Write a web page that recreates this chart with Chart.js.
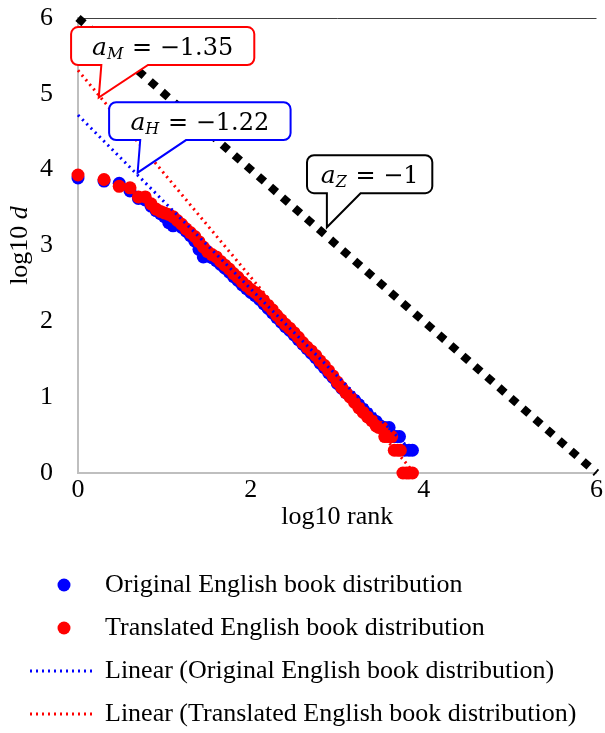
<!DOCTYPE html>
<html>
<head>
<meta charset="utf-8">
<script src="https://cdn.jsdelivr.net/npm/chart.js@4.4.1/dist/chart.umd.min.js"></script>
<style>
  html, body { margin: 0; padding: 0; background: #fff; }
</style>
</head>
<body>
<canvas id="chart" width="605" height="733"></canvas>
<script>
// ---------------- Data ----------------
const seriesNames = [
    'Original English book distribution',
    'Translated English book distribution',
    'Linear (Original English book distribution)',
    'Linear (Translated English book distribution)'
];

// log10 rank / log10 d, original book
const origX = [0, 0.301, 0.477, 0.602, 0.699, 0.778, 0.845, 0.903, 0.954,
    1.00, 1.05, 1.10, 1.15, 1.20, 1.25, 1.30, 1.35, 1.40, 1.45,
    1.50, 1.55, 1.60, 1.65, 1.70, 1.75, 1.80, 1.85, 1.90, 1.95,
    2.00, 2.05, 2.10, 2.15, 2.20, 2.25, 2.30, 2.35, 2.40, 2.45,
    2.50, 2.55, 2.60, 2.65, 2.70, 2.75, 2.80, 2.85, 2.90, 2.95,
    3.00, 3.05, 3.10, 3.15, 3.20, 3.25, 3.30,
    3.35, 3.40, 3.45, 3.50, 3.55, 3.60, 3.64, 3.68, 3.72, 3.78, 3.83, 3.87];
const origY = [3.89, 3.85, 3.82, 3.72, 3.62, 3.60, 3.52, 3.46, 3.42,
    3.38, 3.30, 3.26, 3.28, 3.24, 3.19, 3.13, 3.06, 2.95, 2.85,
    2.86, 2.84, 2.80, 2.75, 2.70, 2.65, 2.59, 2.54, 2.48, 2.43,
    2.38, 2.34, 2.29, 2.23, 2.17, 2.11, 2.05, 1.99, 1.93, 1.88,
    1.82, 1.76, 1.70, 1.64, 1.58, 1.52, 1.45, 1.39, 1.32, 1.26,
    1.18, 1.12, 1.06, 1.01, 0.96, 0.90, 0.84,
    0.78, 0.72, 0.68, 0.62, 0.60, 0.60, 0.48, 0.48, 0.48, 0.30, 0.30, 0.30];

// log10 rank / log10 d, translated book
const transX = [0, 0.301, 0.477, 0.602, 0.699, 0.778, 0.845, 0.903, 0.954,
    1.00, 1.05, 1.10, 1.15, 1.20, 1.25, 1.30, 1.35, 1.40, 1.45,
    1.50, 1.55, 1.60, 1.65, 1.70, 1.75, 1.80, 1.85, 1.90, 1.95,
    2.00, 2.05, 2.10, 2.15, 2.20, 2.25, 2.30, 2.35, 2.40, 2.45,
    2.50, 2.55, 2.60, 2.65, 2.70, 2.75, 2.80, 2.85, 2.90, 2.95,
    3.00, 3.05, 3.10, 3.15, 3.20, 3.25, 3.30, 3.35, 3.40, 3.45,
    3.48, 3.52, 3.55, 3.59, 3.63, 3.66, 3.70, 3.73, 3.76, 3.80, 3.83, 3.87];
const transY = [3.93, 3.87, 3.78, 3.76, 3.64, 3.64, 3.55, 3.48, 3.45,
    3.43, 3.41, 3.38, 3.33, 3.28, 3.22, 3.17, 3.12, 3.05, 2.98,
    2.92, 2.88, 2.85, 2.79, 2.74, 2.69, 2.63, 2.58, 2.52, 2.47,
    2.42, 2.38, 2.33, 2.27, 2.21, 2.15, 2.08, 2.02, 1.96, 1.91,
    1.85, 1.79, 1.72, 1.66, 1.61, 1.55, 1.48, 1.42, 1.35, 1.28,
    1.20, 1.13, 1.06, 1.00, 0.93, 0.86, 0.80, 0.74, 0.69, 0.62,
    0.60, 0.60, 0.48, 0.48, 0.48, 0.30, 0.30, 0.30, 0, 0, 0, 0];

// linear trend lines (end points)
const origTrendX = [0, 3.88];
const origTrendY = [4.72, 0.27];
const transTrendX = [0, 3.84];
const transTrendY = [5.31, 0.07];

// Zipf reference line, slope -1
const zipfX = [0, 6];
const zipfY = [6, 0];

const xTicks = [0, 2, 4, 6];
const yTicks = [0, 1, 2, 3, 4, 5, 6];

// callout labels: slope name and value
const calloutSubs = ['M', 'H', 'Z'];
const calloutValues = ['\u22121.35', '\u22121.22', '\u22121'];

const toPts = (xs, ys) => xs.map((x, i) => ({ x: x, y: ys[i] }));

const FONT = 'Liberation Serif';
const FSIZE = 26;

// ---------------- Legend symbols ----------------
function legendSymbol(color, kind) {
    const c = document.createElement('canvas');
    c.width = 75; c.height = 14;
    const g = c.getContext('2d');
    g.fillStyle = color;
    g.strokeStyle = color;
    if (kind === 'dot') {
        g.beginPath();
        g.arc(47, 7, 6.5, 0, Math.PI * 2);
        g.fill();
    } else {
        g.lineWidth = 3;
        g.setLineDash([2, 4]);
        g.beginPath();
        g.moveTo(13, 7);
        g.lineTo(75, 7);
        g.stroke();
    }
    return c;
}
const legendImgs = [
    legendSymbol('#0000ff', 'dot'),
    legendSymbol('#ff0000', 'dot'),
    legendSymbol('#0000ff', 'line'),
    legendSymbol('#ff0000', 'line')
];

// ---------------- Callouts + y title ----------------
const calloutStyle = [
    { color: '#ff0000', box: [-0.08, 5.88, 2.04, 5.38], base: [0.27, 0.81], tip: [0.24, 4.95] },
    { color: '#0000ff', box: [0.36, 4.89, 2.46, 4.39], base: [0.72, 1.25], tip: [0.69, 3.96] },
    { color: '#000000', box: [2.65, 4.19, 4.10, 3.69], base: [2.88, 3.27], tip: [2.88, 3.24] }
];

function drawCallout(ctx, xs, ys, st, sub, val) {
    const l = xs.getPixelForValue(st.box[0]), r = xs.getPixelForValue(st.box[2]);
    const t = ys.getPixelForValue(st.box[1]), b = ys.getPixelForValue(st.box[3]);
    const b0 = xs.getPixelForValue(st.base[0]), b1 = xs.getPixelForValue(st.base[1]);
    const tx = xs.getPixelForValue(st.tip[0]), ty = ys.getPixelForValue(st.tip[1]);
    const rad = 7;
    ctx.save();
    ctx.beginPath();
    ctx.moveTo(l + rad, t);
    ctx.arcTo(r, t, r, b, rad);
    ctx.arcTo(r, b, l, b, rad);
    ctx.lineTo(b1, b);
    ctx.lineTo(tx, ty);
    ctx.lineTo(b0, b);
    ctx.arcTo(l, b, l, t, rad);
    ctx.arcTo(l, t, r, t, rad);
    ctx.closePath();
    ctx.fillStyle = '#fff';
    ctx.fill();
    ctx.lineWidth = 2;
    ctx.strokeStyle = st.color;
    ctx.stroke();

    // text: a_sub = value
    const fa = 'italic 25px "DejaVu Serif"';
    const fs = 'italic 16px "DejaVu Serif"';
    const fv = '24px "DejaVu Serif"';
    const rest = ' = ' + val;
    ctx.font = fa; const wa = ctx.measureText('a').width;
    ctx.font = fs; const ws = ctx.measureText(sub).width;
    ctx.font = fv; const wv = ctx.measureText(rest).width;
    let x = (l + r) / 2 - (wa + ws + 1 + wv) / 2;
    const base = (t + b) / 2 + 9;
    ctx.fillStyle = '#000';
    ctx.textBaseline = 'alphabetic';
    ctx.textAlign = 'left';
    ctx.font = fa; ctx.fillText('a', x, base); x += wa;
    ctx.font = fs; ctx.fillText(sub, x, base + 4); x += ws + 1;
    ctx.font = fv; ctx.fillText(rest, x, base);
    ctx.restore();
}

const extrasPlugin = {
    id: 'extras',
    afterDraw(chart) {
        const ctx = chart.ctx;
        const xs = chart.scales.x, ys = chart.scales.y;
        calloutStyle.forEach((st, i) => drawCallout(ctx, xs, ys, st, calloutSubs[i], calloutValues[i]));

        // y title: log10 d (d italic)
        const area = chart.chartArea;
        ctx.save();
        ctx.translate(20, (area.top + area.bottom) / 2);
        ctx.rotate(-Math.PI / 2);
        ctx.fillStyle = '#000';
        ctx.textBaseline = 'middle';
        const f1 = FSIZE + 'px "' + FONT + '"', f2 = 'italic ' + FSIZE + 'px "' + FONT + '"';
        ctx.font = f1; const w1 = ctx.measureText('log10 ').width;
        ctx.font = f2; const w2 = ctx.measureText('d').width;
        let x = -(w1 + w2) / 2;
        ctx.font = f1; ctx.fillText('log10 ', x, 0);
        ctx.font = f2; ctx.fillText('d', x + w1, 0);
        ctx.restore();
    }
};

// ---------------- Chart ----------------
const ctx = document.getElementById('chart').getContext('2d');
new Chart(ctx, {
    type: 'scatter',
    data: {
        datasets: [
            {
                label: seriesNames[0],
                data: toPts(origX, origY),
                backgroundColor: '#0000ff',
                borderWidth: 0,
                pointRadius: 6.5,
                clip: false,
                order: 5
            },
            {
                label: seriesNames[1],
                data: toPts(transX, transY),
                backgroundColor: '#ff0000',
                borderWidth: 0,
                pointRadius: 6.5,
                clip: false,
                order: 4
            },
            {
                label: seriesNames[2],
                data: toPts(origTrendX, origTrendY),
                showLine: true,
                borderColor: '#0000ff',
                borderWidth: 3,
                borderDash: [2, 4],
                pointRadius: 0,
                clip: false,
                order: 3
            },
            {
                label: seriesNames[3],
                data: toPts(transTrendX, transTrendY),
                showLine: true,
                borderColor: '#ff0000',
                borderWidth: 3,
                borderDash: [2, 4],
                pointRadius: 0,
                clip: false,
                order: 2
            },
            {
                label: 'Zipf',
                data: toPts(zipfX, zipfY),
                showLine: true,
                borderColor: '#000000',
                borderWidth: 8,
                borderDash: [8, 8],
                pointRadius: 0,
                clip: false,
                order: 1
            }
        ]
    },
    options: {
        responsive: false,
        animation: false,
        devicePixelRatio: 1,
        layout: { padding: { top: 18, right: 8, left: 0, bottom: -4 } },
        plugins: {
            tooltip: { enabled: false },
            legend: {
                position: 'bottom',
                align: 'start',
                labels: {
                    usePointStyle: true,
                    pointStyleWidth: 75,
                    padding: 17,
                    color: '#000',
                    font: { family: FONT, size: FSIZE },
                    filter: item => item.datasetIndex < 4,
                    sort: (a, b) => a.datasetIndex - b.datasetIndex,
                    generateLabels: chart => {
                        const items = Chart.defaults.plugins.legend.labels.generateLabels(chart);
                        items.forEach(it => {
                            if (it.datasetIndex < 4) it.pointStyle = legendImgs[it.datasetIndex];
                        });
                        return items;
                    }
                }
            }
        },
        scales: {
            x: {
                type: 'linear',
                min: 0, max: 6,
                afterBuildTicks: s => { s.ticks = xTicks.map(v => ({ value: v })); },
                afterFit: s => { s.height = 82; },
                grid: { display: false, drawTicks: false },
                border: { display: true, color: '#bfbfbf', width: 2 },
                ticks: { color: '#000', padding: 2, font: { family: FONT, size: FSIZE } },
                title: {
                    display: true,
                    text: 'log10 rank',
                    color: '#000',
                    padding: { top: 0, bottom: 22 },
                    font: { family: FONT, size: FSIZE }
                }
            },
            y: {
                type: 'linear',
                min: 0, max: 6,
                afterBuildTicks: s => { s.ticks = yTicks.map(v => ({ value: v })); },
                afterFit: s => { s.width = 78; s.paddingTop = 0; s.paddingBottom = 0; },
                grid: {
                    drawTicks: false,
                    color: c => c.tick.value === 6 ? '#404040' : 'rgba(0,0,0,0)',
                    lineWidth: 1
                },
                border: { display: true, color: '#bfbfbf', width: 2 },
                ticks: { color: '#000', padding: 25, font: { family: FONT, size: FSIZE } }
            }
        }
    },
    plugins: [extrasPlugin]
});
</script>
</body>
</html>
